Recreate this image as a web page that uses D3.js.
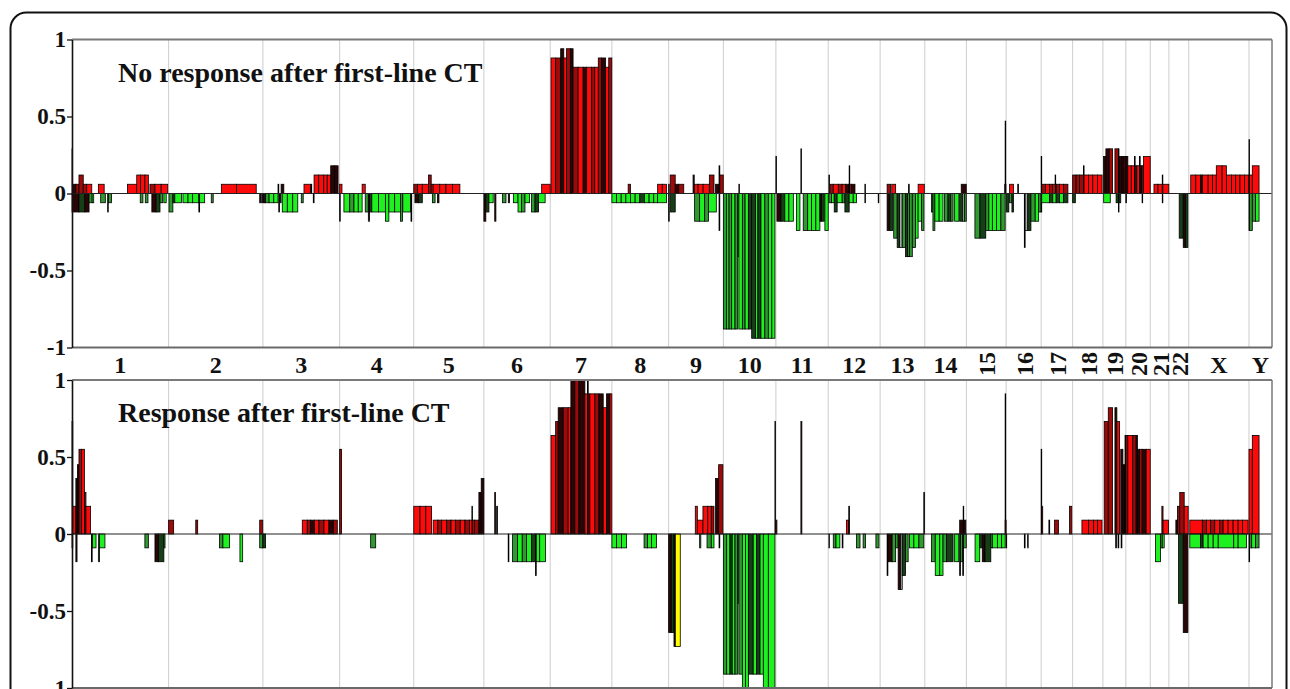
<!DOCTYPE html>
<html>
<head>
<meta charset="utf-8">
<script src="https://cdn.jsdelivr.net/npm/d3@7"></script>
<style>
  html, body { margin: 0; padding: 0; background: #fff; }
  svg { display: block; font-family: "Liberation Serif", "Times New Roman", serif; font-weight: bold; }
</style>
</head>
<body>
<script>
// ---- Genome layout (GRCh37 chromosome lengths, Mb) ----
const chromosomes = ["1","2","3","4","5","6","7","8","9","10","11","12","13","14","15","16","17","18","19","20","21","22","X","Y"];
const chromLengthsMb = [249.25, 243.2, 198.0, 191.2, 180.9, 171.1, 159.1, 146.4, 141.2, 135.5, 135.0, 133.9,
                        115.2, 107.3, 102.5, 90.4, 81.2, 78.1, 59.1, 63.0, 48.1, 51.3, 155.3, 59.4];
const verticalLabels = ["15","16","17","18","19","20","21","22"];

const yTicks = [1, 0.5, 0, -0.5, -1];
const yTickLabels = ["1", "0.5", "0", "-0.5", "-1"];
const panelTitles = ["No response after first-line CT", "Response after first-line CT"];

// shade classes: r bright red, m dark red, k near-black, g bright green, G mid green, d dark green, s grey, y yellow
// each segment: [chromosome, startMb, endMb, frequency, shade]
const noResponseBars = [
  ["1",0,1.5,0.29,"k"],["1",0,1.5,-0.12,"k"],["1",1.5,10,0.06,"k"],["1",10,18,0.06,"m"],["1",1.5,18,-0.12,"k"],
  ["1",18,29,0.12,"m"],["1",29,38,0.06,"m"],["1",38,51,0.06,"r"],["1",18,33,-0.12,"d"],["1",33,44,-0.12,"k"],
  ["1",44,52,-0.06,"G"],["1",52,56,-0.06,"g"],["1",68,83,0.06,"r"],["1",74,86,-0.06,"G"],["1",92,93.5,-0.12,"k"],
  ["1",94,102,-0.06,"G"],["1",143,167,0.06,"r"],["1",167,177,0.12,"r"],["1",177,188,0.12,"r"],["1",188,197,0.12,"r"],
  ["1",176,183,-0.06,"G"],["1",189,196,-0.06,"G"],["1",201,214,0.06,"m"],["1",214,230,0.06,"r"],["1",230,247,0.06,"r"],
  ["1",206,217,-0.12,"k"],["1",217,227,-0.12,"d"],["1",227,234,-0.06,"G"],["1",237,243,-0.06,"g"],

  ["2",1,11,-0.12,"G"],["2",11,16,-0.06,"d"],["2",16,33,-0.06,"g"],["2",37,50,-0.06,"g"],["2",50,62,-0.06,"g"],
  ["2",62,78,-0.06,"g"],["2",78,80,-0.12,"d"],["2",80,93,-0.06,"g"],["2",110,115,-0.06,"G"],["2",136,175,0.06,"r"],
  ["2",175,226,0.06,"r"],["2",235,238,-0.06,"k"],["2",239,242,-0.06,"s"],

  ["3",0,4,-0.06,"k"],["3",4,7,-0.06,"s"],["3",7,16,-0.06,"G"],["3",16,28,-0.06,"g"],["3",28,39,-0.06,"g"],
  ["3",39,41,0.06,"m"],["3",41,43,-0.12,"k"],["3",44,47,-0.06,"d"],["3",47,54,0.06,"k"],["3",50,63,-0.12,"g"],
  ["3",63,77,-0.12,"g"],["3",77,90,-0.12,"g"],["3",99,104,-0.06,"G"],["3",106,123,0.06,"r"],["3",124,126,0.06,"k"],
  ["3",130,132,-0.06,"k"],["3",132,144,0.12,"r"],["3",144,157,0.12,"r"],["3",157,166,0.12,"r"],["3",166,175,0.12,"r"],
  ["3",175,185,0.18,"k"],["3",185,194,0.18,"k"],

  ["4",0,6,0.06,"r"],["4",0,1.5,-0.18,"k"],["4",11,26,-0.12,"g"],["4",26,37,-0.12,"G"],["4",37,48,-0.12,"g"],
  ["4",48,58,-0.12,"g"],["4",58,66,0.06,"r"],["4",66,74,-0.12,"G"],["4",74,77,-0.18,"k"],["4",77,83,-0.12,"d"],
  ["4",83,100,-0.12,"g"],["4",100,118,-0.12,"g"],["4",118,127,-0.18,"g"],["4",127,142,-0.12,"g"],["4",142,157,-0.12,"g"],
  ["4",157,162,-0.18,"G"],["4",163,183,-0.12,"g"],["4",184,186,-0.18,"k"],

  ["5",0,10,0.06,"m"],["5",10,22,0.06,"r"],["5",3,13,-0.06,"k"],["5",13,22,-0.06,"d"],["5",22,38,0.06,"r"],
  ["5",38,45,0.12,"m"],["5",45,50,0.06,"r"],["5",48,55,-0.06,"G"],["5",61,65,-0.06,"k"],["5",50,67,0.06,"r"],
  ["5",67,83,0.06,"r"],["5",83,100,0.06,"r"],["5",100,119,0.06,"r"],

  ["6",0,5,-0.18,"k"],["6",5,13,-0.12,"d"],["6",13,24,-0.06,"g"],["6",28,31,-0.18,"k"],["6",48,57,-0.06,"G"],
  ["6",63,66,-0.06,"k"],["6",76,88,-0.06,"g"],["6",88,97,-0.12,"g"],["6",97,106,-0.12,"G"],["6",106,118,-0.06,"g"],
  ["6",123,132,-0.12,"G"],["6",132,141,-0.12,"d"],["6",141,158,-0.06,"g"],["6",149,171,0.06,"r"],

  ["7",2,14,0.88,"r"],["7",14,27,0.88,"m"],["7",27,35,0.94,"k"],["7",35,42,0.88,"r"],["7",42,52,0.94,"m"],
  ["7",52,59,0.94,"k"],["7",59,72,0.82,"m"],["7",72,85,0.82,"r"],["7",85,94,0.82,"k"],["7",94,107,0.82,"r"],
  ["7",107,115,0.82,"m"],["7",115,124,0.82,"r"],["7",124,132,0.88,"m"],["7",132,143,0.88,"k"],["7",143,151,0.82,"r"],
  ["7",151,159,0.88,"m"],

  ["8",0,12,-0.06,"g"],["8",12,24,-0.06,"g"],["8",24,36,-0.06,"g"],["8",36,48,-0.06,"g"],["8",42,48,0.06,"m"],
  ["8",48,60,-0.06,"g"],["8",60,72,-0.06,"g"],["8",72,84,-0.06,"d"],["8",84,96,-0.06,"g"],["8",96,108,-0.06,"g"],
  ["8",108,118,-0.06,"g"],["8",118,130,0.06,"r"],["8",130,141,0.06,"r"],["8",118,141,-0.06,"g"],

  ["9",0,1.5,0.06,"m"],["9",0,1.5,-0.18,"k"],["9",4,17,0.12,"m"],["9",4,17,-0.12,"d"],["9",17,26,0.06,"k"],
  ["9",26,39,0.06,"m"],["9",63,66,0.12,"k"],["9",67,76,0.06,"r"],["9",76,89,0.06,"r"],["9",89,105,0.06,"r"],
  ["9",105,117,0.12,"m"],["9",67,80,-0.18,"G"],["9",80,93,-0.18,"g"],["9",93,103,-0.18,"G"],["9",103,123,-0.12,"g"],
  ["9",121,130,0.06,"k"],["9",130,132,0.18,"k"],["9",130,132,-0.24,"k"],["9",132,141,0.12,"m"],

  ["10",0,8.6,-0.88,"G"],["10",8.6,14.6,-0.88,"g"],["10",14.6,21.5,-0.88,"G"],["10",21.5,30,-0.88,"g"],
  ["10",30,37,-0.88,"G"],["10",37,40,-0.41,"s"],["10",40,49,-0.88,"g"],["10",49,56,-0.88,"G"],["10",56,64.5,-0.88,"g"],
  ["10",64.5,73,-0.88,"d"],["10",73,83,-0.94,"d"],["10",83,89,-0.94,"g"],["10",89,97,-0.94,"d"],["10",97,107,-0.94,"g"],
  ["10",107,116,-0.94,"G"],["10",116,125,-0.94,"g"],["10",125,133,-0.94,"g"],["10",40,41.5,0.06,"m"],

  ["11",0,1.5,0.24,"k"],["11",2.6,13,-0.18,"k"],["11",13,23,-0.18,"d"],["11",23,33.5,-0.18,"g"],["11",33.5,45,-0.18,"g"],
  ["11",53,62,-0.24,"g"],["11",64.5,66,0.29,"k"],["11",70.5,82,-0.24,"G"],["11",82,92,-0.24,"g"],["11",92,103,-0.24,"g"],
  ["11",103,113.5,-0.24,"g"],["11",113.5,118,-0.18,"k"],["11",118,124.7,-0.18,"d"],["11",126.4,135,-0.24,"g"],

  ["12",1.7,3.5,0.12,"k"],["12",1.7,8.6,-0.06,"G"],["12",5,13,0.06,"m"],["12",13,26,0.06,"r"],["12",26,36,0.06,"m"],
  ["12",36,45,0.06,"r"],["12",45,53,0.06,"k"],["12",53,60,0.06,"m"],["12",60,69,0.06,"k"],["12",54,55.5,0.18,"k"],
  ["12",8.6,15.5,-0.06,"g"],["12",15.5,23,-0.12,"d"],["12",23,36,-0.06,"g"],["12",36,43,-0.06,"G"],["12",43,54,-0.12,"d"],
  ["12",54,64.5,-0.06,"g"],["12",64.5,73,-0.06,"g"],["12",94.6,96,0.06,"k"],["12",94.6,96,-0.06,"k"],["12",129,130.5,-0.06,"k"],

  ["13",18,27,0.06,"m"],["13",30,40,0.06,"r"],["13",73,75,0.06,"k"],["13",98,114,0.06,"r"],
  ["13",18,25,-0.24,"k"],["13",25,33,-0.24,"d"],["13",35,44,-0.29,"G"],["13",44,50,-0.35,"d"],["13",50,57,-0.35,"s"],
  ["13",57,65.5,-0.35,"G"],["13",65.5,71,-0.41,"d"],["13",71,76,-0.41,"G"],["13",76,83,-0.41,"G"],["13",83,91,-0.35,"G"],
  ["13",91,98,-0.29,"g"],["13",98,107,-0.18,"g"],["13",107,113,-0.24,"G"],

  ["14",17,21,-0.12,"G"],["14",21,26,-0.24,"G"],["14",26,37,-0.18,"g"],["14",37,47,-0.18,"g"],["14",51,60,-0.18,"G"],
  ["14",60,67,-0.18,"d"],["14",67,73,-0.18,"G"],["14",77,88,-0.18,"g"],["14",90,97,-0.18,"d"],["14",97,102,-0.18,"s"],
  ["14",102,107,-0.18,"G"],["14",94,107,0.06,"k"],

  ["15",22,35,-0.29,"G"],["15",35,50,-0.29,"d"],["15",50,58,-0.24,"G"],["15",58,67,-0.24,"g"],["15",67,78,-0.24,"g"],
  ["15",78,89,-0.24,"g"],["15",89,100,-0.24,"G"],["15",100,101.5,0.47,"k"],["15",99,102,0.06,"k"],

  ["16",0,7,-0.12,"d"],["16",9,19,0.06,"r"],["16",9,15,-0.06,"G"],["16",15,19,-0.12,"d"],["16",30,32,0.06,"k"],
  ["16",47,49,-0.35,"k"],["16",49,56,-0.24,"s"],["16",56,64,-0.24,"d"],["16",64,75,-0.18,"G"],["16",75,84,-0.18,"g"],
  ["16",84,90,-0.12,"G"],

  ["17",0,1.5,0.24,"k"],["17",0,1.5,-0.12,"k"],["17",1.5,11,0.06,"m"],["17",11,21.5,0.06,"r"],["17",21.5,30,0.06,"m"],
  ["17",30,38.7,0.06,"r"],["17",38.7,47.3,0.06,"m"],["17",47.3,57.6,0.06,"r"],["17",57.6,69,0.06,"m"],["17",36,37.5,0.12,"k"],
  ["17",1.5,21.5,-0.06,"g"],["17",21.5,30,-0.06,"d"],["17",30,38.7,-0.06,"g"],["17",38.7,47.3,-0.06,"d"],
  ["17",47.3,57.6,-0.06,"g"],["17",57.6,69,-0.06,"d"],

  ["18",0,9,0.12,"m"],["18",0,7,-0.06,"d"],["18",9,18,0.12,"m"],["18",18,28,0.12,"m"],["18",28,29.5,0.18,"k"],
  ["18",29.5,41,0.12,"r"],["18",41,52,0.12,"r"],["18",52,64,0.12,"r"],["18",64,76,0.12,"r"],

  ["19",1.7,7.7,0.24,"k"],["19",7.7,16.3,0.29,"k"],["19",16.3,25,0.29,"m"],["19",2,19,-0.06,"g"],["19",31,40,0.29,"m"],
  ["19",34,46,-0.06,"d"],["19",40,41.5,0.29,"k"],["19",40,41.5,-0.12,"k"],["19",41.5,49,0.24,"k"],["19",49,55,0.24,"k"],
  ["19",55,59,0.24,"m"],

  ["20",0,1.5,-0.06,"k"],["20",0,5.2,0.24,"k"],["20",5.2,14,0.18,"r"],["20",14,22.4,0.18,"r"],["20",22.4,24,0.24,"k"],
  ["20",24,28.4,0.18,"m"],["20",28.4,35.3,0.18,"r"],["20",35.3,37,0.24,"k"],["20",37,42.2,0.18,"k"],["20",42.2,45.7,0.18,"r"],
  ["20",45.7,63,0.24,"r"],["20",42,43.5,-0.06,"k"],

  ["21",9.6,20,0.06,"r"],["21",20,31,0.06,"r"],["21",31,32.5,0.12,"k"],["21",31,32.5,-0.06,"k"],["21",32.5,48,0.06,"r"],

  ["22",26.6,37,-0.29,"d"],["22",37,43,-0.35,"k"],["22",43,49,-0.35,"d"],

  ["X",5,18,0.12,"r"],["X",18,30,0.12,"r"],["X",30,35,0.12,"k"],["X",35,50,0.12,"r"],["X",50,61,0.12,"r"],
  ["X",61,71,0.12,"r"],["X",71,86,0.18,"r"],["X",86,97,0.18,"r"],["X",97,110,0.12,"r"],["X",110,121,0.12,"r"],
  ["X",121,132,0.12,"r"],["X",132,144,0.12,"r"],["X",144,155,0.12,"r"],

  ["Y",0,1.5,0.35,"k"],["Y",0,1.5,-0.24,"G"],["Y",1.5,8.6,0.12,"r"],["Y",1.5,8.6,-0.24,"G"],["Y",8.6,26,0.18,"r"],
  ["Y",8.6,17,-0.18,"G"],["Y",17,26,-0.18,"g"]
];

const responseBars = [
  ["1",0,2,0.73,"k"],["1",2,10,0.18,"r"],["1",10,14,0.36,"k"],["1",14,18,0.45,"k"],["1",18,25,0.55,"m"],
  ["1",25,32,0.55,"r"],["1",32,36,0.27,"m"],["1",36,48,0.18,"r"],
  ["1",0,2,-0.09,"k"],["1",10,13,-0.18,"k"],["1",50,52,-0.18,"k"],["1",53,62,-0.09,"g"],["1",68,71,-0.18,"G"],
  ["1",71,85,-0.09,"g"],["1",188,197,-0.09,"G"],["1",214,223,-0.18,"k"],["1",223,237,-0.18,"d"],["1",237,240,-0.09,"G"],

  ["2",0,13,0.09,"m"],["2",70,75,0.09,"m"],["2",131,140,-0.09,"G"],["2",140,157,-0.09,"g"],["2",184,191,-0.18,"g"],
  ["2",235,243,0.09,"m"],["2",235,243,-0.09,"G"],

  ["3",0,7,-0.09,"d"],["3",101.6,114.5,0.09,"r"],["3",114.5,123,0.09,"m"],["3",123,133.4,0.09,"k"],
  ["3",133.4,144.6,0.09,"r"],["3",144.6,157.5,0.09,"m"],["3",157.5,170.4,0.09,"r"],["3",170.4,181.6,0.09,"k"],
  ["3",181.6,192,0.09,"m"],

  ["4",0,5,0.55,"m"],["4",80,93,-0.09,"G"],

  ["5",0,16,0.18,"r"],["5",16,31,0.18,"r"],["5",31,46,0.18,"r"],["5",50,62,0.09,"r"],["5",62,72,0.09,"m"],
  ["5",72,85,0.09,"r"],["5",85,96,0.09,"m"],["5",96,108,0.09,"r"],["5",108,120,0.09,"m"],["5",120,132,0.09,"r"],
  ["5",132,144,0.09,"m"],["5",144,156,0.09,"r"],["5",156,168,0.09,"m"],["5",150,151.5,0.18,"k"],
  ["5",168,174,0.27,"k"],["5",174,181,0.36,"k"],

  ["6",28,30,0.27,"k"],["6",33,35,0.18,"k"],["6",62.7,64.5,-0.18,"k"],["6",74,87,-0.18,"G"],["6",87,99,-0.18,"g"],
  ["6",99,110,-0.18,"G"],["6",110,123,-0.18,"g"],["6",123,133,-0.18,"d"],["6",133,135,-0.27,"k"],
  ["6",135,144,-0.18,"g"],["6",144,159,-0.18,"g"],

  ["7",2,14,0.64,"r"],["7",14,20.6,0.73,"m"],["7",20.6,33.5,0.82,"k"],["7",33.5,46.4,0.82,"m"],["7",46.4,53.3,0.82,"r"],
  ["7",53.3,63.6,1.0,"k"],["7",63.6,74,1.0,"m"],["7",74,89.4,1.0,"k"],["7",89.4,96.3,0.91,"r"],["7",96.3,98,1.0,"k"],
  ["7",98,102.3,0.91,"m"],["7",102.3,115.2,0.91,"r"],["7",115.2,125.6,0.91,"m"],["7",125.6,136.7,0.91,"k"],
  ["7",136.7,145.4,0.82,"r"],["7",145.4,154,0.91,"k"],["7",154,159,0.91,"r"],

  ["8",0,12,-0.09,"g"],["8",12,25,-0.09,"g"],["8",25,38,-0.09,"g"],["8",83,92,-0.09,"G"],["8",92,102,-0.09,"g"],
  ["8",102,115,-0.09,"g"],

  ["9",0,7,-0.64,"k"],["9",7,13.8,-0.64,"d"],["9",13.8,17.2,-0.73,"k"],["9",17.2,30,-0.73,"y"],
  ["9",68.7,74,0.18,"r"],["9",74,88.5,0.09,"r"],["9",88.5,101,0.18,"r"],["9",101,110,0.18,"r"],["9",110,117,0.18,"m"],
  ["9",80,83,-0.09,"G"],["9",99,110,-0.09,"G"],["9",110,117,-0.09,"g"],["9",121,129,0.36,"k"],["9",129,140,0.45,"m"],
  ["9",130,132,-0.09,"k"],

  ["10",0,8.6,-0.91,"G"],["10",8.6,17,-0.91,"g"],["10",17,23,-0.91,"d"],["10",23,30,-0.91,"g"],["10",30,37,-0.91,"G"],
  ["10",37,40,-0.45,"s"],["10",40,49,-0.91,"G"],["10",49,57,-1.0,"g"],["10",57,64.5,-1.0,"g"],["10",64.5,77,-0.91,"d"],
  ["10",77,86,-0.91,"g"],["10",86,94.6,-0.91,"d"],["10",94.6,103,-0.91,"g"],["10",103,116,-1.0,"g"],
  ["10",116,133,-1.0,"g"],["10",133,134.5,0.73,"k"],

  ["11",0,2.6,0.09,"m"],["11",64.5,67,0.73,"k"],

  ["12",1.7,3.5,-0.09,"s"],["12",13,20,-0.09,"G"],["12",20,30,-0.09,"g"],["12",36,38,-0.09,"k"],["12",47,53,0.09,"r"],
  ["12",53,55,0.18,"k"],["12",73,82,-0.09,"G"],["12",90,96,-0.09,"G"],["12",123,131,-0.09,"G"],

  ["13",18,20,-0.27,"k"],["13",20,31,-0.18,"k"],["13",31,40,-0.18,"G"],["13",40,46.5,-0.09,"G"],
  ["13",46.5,52.5,-0.36,"k"],["13",52.5,57,-0.36,"s"],["13",57,65.5,-0.27,"d"],["13",65.5,72.3,-0.18,"G"],
  ["13",75.8,87,-0.09,"g"],["13",87,100,-0.09,"g"],["13",100,112.7,-0.09,"G"],["13",112.7,114.5,0.27,"k"],

  ["14",17,27,-0.18,"G"],["14",27,38.6,-0.27,"g"],["14",38.6,47,-0.27,"g"],["14",47,56,-0.18,"G"],["14",56,73,-0.18,"d"],
  ["14",77,87.6,-0.18,"g"],["14",90,92,-0.27,"k"],["14",92,98,-0.18,"G"],["14",98,100,-0.27,"k"],["14",100,107,-0.09,"G"],
  ["14",90,106,0.09,"k"],["14",99,100.5,0.18,"k"],

  ["15",22.4,34.5,-0.18,"g"],["15",34.5,41,-0.09,"d"],["15",41,48,-0.18,"k"],["15",48,63,-0.18,"d"],["15",63,67,-0.09,"G"],
  ["15",67,80,-0.09,"g"],["15",80,91,-0.09,"g"],["15",91,100,-0.09,"g"],["15",100,101.5,0.91,"k"],["15",100,102.5,0.09,"m"],

  ["16",0,1.5,-0.09,"k"],["16",47,49,-0.09,"s"],["16",55,57,-0.09,"s"],

  ["17",0,1.5,0.55,"k"],["17",1.5,4,0.18,"m"],["17",20,22,0.09,"k"],["17",34.4,44.7,0.09,"m"],["17",73,79,0.18,"m"],

  ["18",24,41.3,0.09,"r"],["18",41.3,54.2,0.09,"r"],["18",54.2,64.5,0.09,"r"],["18",64.5,75.8,0.09,"r"],

  ["19",3.4,13.8,0.73,"m"],["19",13.8,25,0.82,"m"],["19",31,36,0.82,"k"],["19",36,43,0.73,"r"],
  ["19",33,35,-0.09,"k"],["19",39,41,-0.09,"k"],["19",47,49,-0.09,"k"],["19",46,51.6,0.55,"k"],["19",51.6,57,0.45,"k"],
  ["19",57,59,0.64,"m"],

  ["20",0,5.2,0.64,"m"],["20",5.2,18,0.64,"r"],["20",18,26.7,0.64,"m"],["20",26.7,30,0.64,"k"],["20",30,35.3,0.55,"k"],
  ["20",35.3,42.2,0.55,"m"],["20",42.2,52.5,0.55,"k"],["20",52.5,63,0.55,"r"],

  ["21",13.8,26.7,-0.18,"g"],["21",26.7,31,-0.09,"G"],["21",30,33,0.18,"m"],["21",33,47,0.09,"r"],["21",31,36,-0.09,"g"],

  ["22",18,22,0.09,"k"],["22",22,28,0.18,"m"],["22",28,39.5,0.27,"m"],["22",39.5,49.8,0.18,"r"],
  ["22",25,37,-0.45,"d"],["22",37,49,-0.64,"k"],

  ["X",2.6,35,0.09,"r"],["X",35,45.6,0.09,"m"],["X",45.6,56,0.09,"r"],["X",56,67,0.09,"m"],["X",67,80,0.09,"r"],
  ["X",80,88.6,0.09,"m"],["X",88.6,101.5,0.09,"r"],["X",101.5,114.4,0.09,"r"],["X",114.4,127.3,0.09,"r"],
  ["X",127.3,138.5,0.09,"r"],["X",138.5,153,0.09,"r"],
  ["X",2.6,30,-0.09,"g"],["X",30,37,-0.09,"d"],["X",37,50,-0.09,"g"],["X",50,63,-0.09,"g"],["X",63,76,-0.09,"g"],
  ["X",76,116,-0.09,"g"],["X",116,127.3,-0.09,"g"],["X",127.3,149,-0.09,"g"],

  ["Y",0,8.6,0.55,"r"],["Y",8.6,26,0.64,"r"],["Y",0,1.7,-0.18,"G"],["Y",1.7,7,-0.09,"G"],["Y",7,17,-0.09,"g"],
  ["Y",17,26,-0.09,"G"]
];

// ---- Drawing ----
const W = 1290, H = 689;
const shadeColor = { r: "#ff0a0a", m: "#9e0a0a", k: "#2a0505", g: "#1ff01f", G: "#2f9a2f", d: "#173f17", s: "#a8a8a8", y: "#ffff00" };

const svg = d3.select("body").append("svg").attr("width", W).attr("height", H);
svg.append("rect").attr("width", W).attr("height", H).attr("fill", "#fff");

const starts = Array.from(d3.cumsum([0, ...chromLengthsMb]));
const startOf = new Map(chromosomes.map((c, i) => [c, starts[i]]));
const genomeMb = starts[starts.length - 1];
const x = d3.scaleLinear().domain([0, genomeMb]).range([72, 1272]);

// rounded outer frame (continues past the bottom edge)
svg.append("rect")
  .attr("x", 10.5).attr("y", 12.5).attr("width", 1276).attr("height", 760).attr("rx", 16)
  .attr("fill", "none").attr("stroke", "#111").attr("stroke-width", 2);

const panels = [
  { title: panelTitles[0], bars: noResponseBars, top: 39.5, bottom: 347.5 },
  { title: panelTitles[1], bars: responseBars, top: 380, bottom: 688 }
];

panels.forEach(p => {
  const y = d3.scaleLinear().domain([-1, 1]).range([p.bottom, p.top]);
  const g = svg.append("g");

  // chromosome boundary grid
  g.selectAll("line.grid").data(starts.slice(1, -1)).join("line")
    .attr("class", "grid")
    .attr("x1", d => x(d)).attr("x2", d => x(d))
    .attr("y1", p.top).attr("y2", p.bottom)
    .attr("stroke", "#cdcdcd").attr("stroke-width", 1);

  // frequency bars
  g.selectAll("rect.bar").data(p.bars).join("rect")
    .attr("class", "bar")
    .attr("x", d => x(startOf.get(d[0]) + d[1]))
    .attr("width", d => Math.max(x(startOf.get(d[0]) + d[2]) - x(startOf.get(d[0]) + d[1]), 0.5))
    .attr("y", d => Math.min(y(d[3]), y(0)))
    .attr("height", d => Math.abs(y(d[3]) - y(0)))
    .attr("fill", d => shadeColor[d[4]])
    .attr("stroke", "#000").attr("stroke-width", 0.8);

  // zero baseline
  g.append("line").attr("x1", 72).attr("x2", 1272).attr("y1", y(0)).attr("y2", y(0))
    .attr("stroke", "#222").attr("stroke-width", 1.2);

  // panel frame
  g.append("line").attr("x1", 72).attr("x2", 1272).attr("y1", p.top).attr("y2", p.top)
    .attr("stroke", "#7a7a7a").attr("stroke-width", 2);
  g.append("line").attr("x1", 1272).attr("x2", 1272).attr("y1", p.top).attr("y2", p.bottom)
    .attr("stroke", "#7a7a7a").attr("stroke-width", 1.5);
  g.append("line").attr("x1", 72).attr("x2", 1272).attr("y1", p.bottom).attr("y2", p.bottom)
    .attr("stroke", "#6a6a6a").attr("stroke-width", 2);

  // y axis
  const axis = g.append("g").attr("transform", "translate(72,0)")
    .call(d3.axisLeft(y).tickValues(yTicks).tickFormat((d, i) => yTickLabels[i])
      .tickSize(5).tickSizeOuter(0).tickPadding(1));
  axis.select(".domain").attr("stroke", "#111").attr("stroke-width", 1.6);
  axis.selectAll(".tick line").attr("stroke", "#111").attr("stroke-width", 1.3);
  axis.selectAll(".tick text")
    .attr("fill", "#111").style("font-size", "23px").style("font-weight", "bold")
    .style("font-family", "'Liberation Serif', 'Times New Roman', serif");

  // panel title
  g.append("text").attr("x", 118).attr("y", p.top + 42)
    .attr("fill", "#111").style("font-size", "28px").text(p.title);
});

// chromosome labels between the panels
const labelG = svg.append("g");
chromosomes.forEach((c, i) => {
  const cx = x(starts[i] + chromLengthsMb[i] / 2);
  if (verticalLabels.includes(c)) {
    labelG.append("text")
      .attr("transform", `translate(${cx + 1},364) rotate(-90)`)
      .attr("text-anchor", "middle").attr("dominant-baseline", "central")
      .attr("fill", "#111").style("font-size", "24px").text(c);
  } else {
    labelG.append("text")
      .attr("x", cx).attr("y", 373).attr("text-anchor", "middle")
      .attr("fill", "#111").style("font-size", "24px").text(c);
  }
});
</script>
</body>
</html>
